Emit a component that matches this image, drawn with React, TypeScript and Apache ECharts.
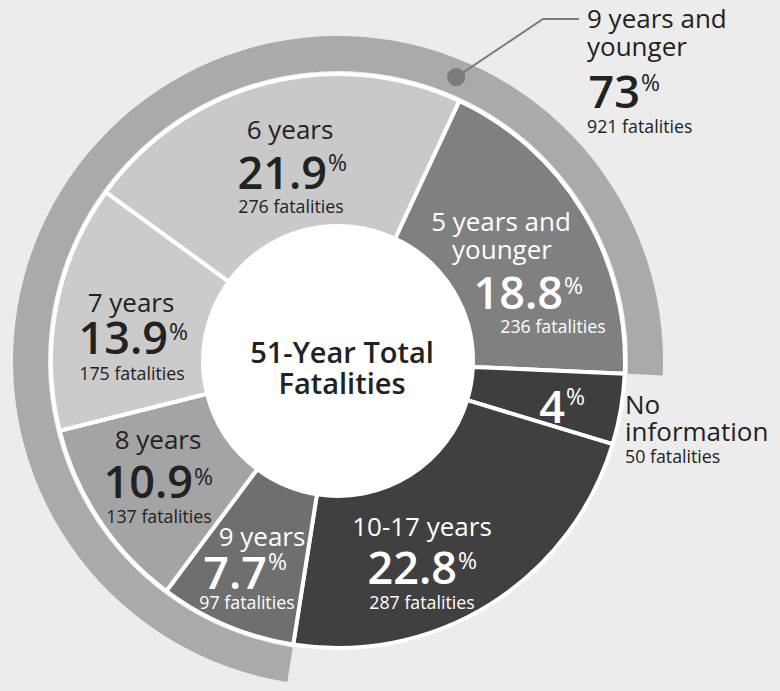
import React, { useEffect, useRef } from "react";
import * as echarts from "echarts";

// ---------- data ----------
const categories = ["5 years and younger", "No information", "10-17 years", "9 years", "8 years", "7 years", "6 years"];
const nameLines = [["5 years and", "younger"], ["No", "information"], ["10-17 years"], ["9 years"], ["8 years"], ["7 years"], ["6 years"]];
const fatalities = [236, 50, 287, 97, 137, 175, 276];
const pctLabels = ["18.8", "4", "22.8", "7.7", "10.9", "13.9", "21.9"];
const groupLines = ["9 years and", "younger"];
const groupMembers = ["9 years", "8 years", "7 years", "6 years", "5 years and younger"];
const groupPct = "73";
const centerLines = ["51-Year Total", "Fatalities"];

// ---------- styles / layout ----------
const FONT = "'Open Sans', 'Noto Sans', sans-serif";
const BG = "#ececec";
const DARK = "#222222";
const sliceColors = ["#808080", "#3e3e3e", "#404040", "#6f6f6f", "#a4a4a4", "#cbcbcb", "#c9c9c9"];
const textColors = ["#ffffff", "#ffffff", "#ffffff", "#ffffff", DARK, DARK, DARK];
const BAND_COLOR = "#aaaaaa";
const LEADER_COLOR = "#7b7b7b";
const CX = 338;
const CY = 361;
const R0 = 135;
const R1 = 287;
const BAND = [290, 325];
const START = 65;
const K = 0.36; // central-baseline offset factor

// label anchors: name line positions [x, baseline], pct right edge + baseline, % top, count [x, baseline]
const labelPos = [
  { name: [[501, 230], [502, 258]], nameAlign: "center", nameColor: null, pct: [563, 308], sup: 277, count: [553, 332], countAlign: "center", countColor: null },
  { name: [[625, 413], [625, 440]], nameAlign: "left", nameColor: DARK, pct: [565, 422], sup: 388, count: [625, 462], countAlign: "left", countColor: DARK },
  { name: [[422, 535]], nameAlign: "center", nameColor: null, pct: [457, 583], sup: 552, count: [422, 608], countAlign: "center", countColor: null },
  { name: [[262, 545]], nameAlign: "center", nameColor: null, pct: [267, 588], sup: 553, count: [247, 608], countAlign: "center", countColor: null },
  { name: [[158, 448]], nameAlign: "center", nameColor: null, pct: [193, 497], sup: 468, count: [159, 522], countAlign: "center", countColor: null },
  { name: [[131, 311]], nameAlign: "center", nameColor: null, pct: [168, 353], sup: 323, count: [132, 379], countAlign: "center", countColor: null },
  { name: [[290, 138]], nameAlign: "center", nameColor: null, pct: [327, 188], sup: 154, count: [291, 212], countAlign: "center", countColor: null },
];
const groupPos = { name: [[587, 27], [587, 55]], pct: [640, 107], sup: 74, count: [587, 132] };
const centerPos = [[342, 362], [342, 393]];
const DOT_ANGLE = 22.6; // degrees clockwise from top
const leaderPts = [[543, 19], [579, 19]];

const NAME_SIZE = 26;
const PCT_SIZE = 45;
const SUP_SIZE = 23;
const COUNT_SIZE = 17.8;
const TITLE_SIZE = 29;

function txt(s: string, x: number, baseline: number, size: number, weight: string | number, color: string, align: string) {
  return {
    type: "text",
    x,
    y: baseline - K * size,
    z: 100,
    silent: true,
    style: {
      text: s,
      fontSize: size,
      fontWeight: weight,
      fontFamily: FONT,
      fill: color,
      align,
      verticalAlign: "middle",
    },
  };
}

function buildOption() {
  const total = fatalities.reduce((a, b) => a + b, 0);
  const groupTotal = categories.reduce((a, c, i) => a + (groupMembers.includes(c) ? fatalities[i] : 0), 0);
  const firstGroupIdx = categories.indexOf(groupMembers[0]);
  const before = fatalities.slice(0, firstGroupIdx).reduce((a, b) => a + b, 0);
  const bandStart = START - (before / total) * 360;

  const graphics: any[] = [];
  graphics.push({ type: "circle", z: 0, silent: true, shape: { cx: CX, cy: CY, r: R0 + 2 }, style: { fill: "#ffffff" } });

  // slice labels
  labelPos.forEach((p, i) => {
    const col = textColors[i];
    nameLines[i].forEach((line, j) => {
      const [x, y] = p.name[j];
      graphics.push(txt(line, x, y, NAME_SIZE, "normal", p.nameColor || col, p.nameAlign));
    });
    graphics.push(txt(pctLabels[i], p.pct[0], p.pct[1], PCT_SIZE, 600, col, "right"));
    graphics.push(txt("%", p.pct[0] + 1, p.sup + 0.72 * SUP_SIZE, SUP_SIZE, "normal", col, "left"));
    graphics.push(txt(`${fatalities[i]} fatalities`, p.count[0], p.count[1], COUNT_SIZE, "normal", p.countColor || col, p.countAlign));
  });

  // group annotation
  groupLines.forEach((line, j) => {
    const [x, y] = groupPos.name[j];
    graphics.push(txt(line, x, y, NAME_SIZE, "normal", DARK, "left"));
  });
  graphics.push(txt(groupPct, groupPos.pct[0], groupPos.pct[1], PCT_SIZE, 600, DARK, "right"));
  graphics.push(txt("%", groupPos.pct[0] + 1, groupPos.sup + 0.72 * SUP_SIZE, SUP_SIZE, "normal", DARK, "left"));
  graphics.push(txt(`${groupTotal} fatalities`, groupPos.count[0], groupPos.count[1], COUNT_SIZE, "normal", DARK, "left"));

  // leader
  const rMid = (BAND[0] + BAND[1]) / 2;
  const a = (DOT_ANGLE * Math.PI) / 180;
  const dx = CX + rMid * Math.sin(a);
  const dy = CY - rMid * Math.cos(a);
  graphics.push({
    type: "polyline",
    z: 50,
    silent: true,
    shape: { points: [[dx, dy], ...leaderPts] },
    style: { stroke: LEADER_COLOR, lineWidth: 2, fill: null },
  });
  graphics.push({ type: "circle", z: 51, silent: true, shape: { cx: dx, cy: dy, r: 9 }, style: { fill: LEADER_COLOR } });

  // center title
  centerLines.forEach((line, j) => {
    const [x, y] = centerPos[j];
    graphics.push(txt(line, x, y, TITLE_SIZE, 600, DARK, "center"));
  });

  return {
    animation: false,
    backgroundColor: BG,
    series: [
      {
        type: "pie",
        center: [CX, CY],
        radius: [R0, R1],
        startAngle: START,
        clockwise: true,
        silent: true,
        label: { show: false },
        labelLine: { show: false },
        emphasis: { disabled: true },
        itemStyle: { borderColor: "#ffffff", borderWidth: 4 },
        data: categories.map((c, i) => ({ name: c, value: fatalities[i], itemStyle: { color: sliceColors[i] } })),
      },
      {
        type: "pie",
        center: [CX, CY],
        radius: BAND,
        startAngle: bandStart,
        clockwise: true,
        silent: true,
        label: { show: false },
        labelLine: { show: false },
        emphasis: { disabled: true },
        data: [
          { name: "9 years and younger", value: groupTotal, itemStyle: { color: BAND_COLOR } },
          { name: "other", value: total - groupTotal, itemStyle: { color: "rgba(0,0,0,0)" } },
        ],
      },
    ],
    graphic: graphics,
  };
}

export default function App() {
  const ref = useRef<HTMLDivElement>(null);
  useEffect(() => {
    const chart = echarts.init(ref.current!, null, { renderer: "svg" });
    chart.setOption(buildOption() as any);
    return () => chart.dispose();
  }, []);
  return <div ref={ref} style={{ position: "absolute", left: 0, top: 0, width: 780, height: 691 }} />;
}
